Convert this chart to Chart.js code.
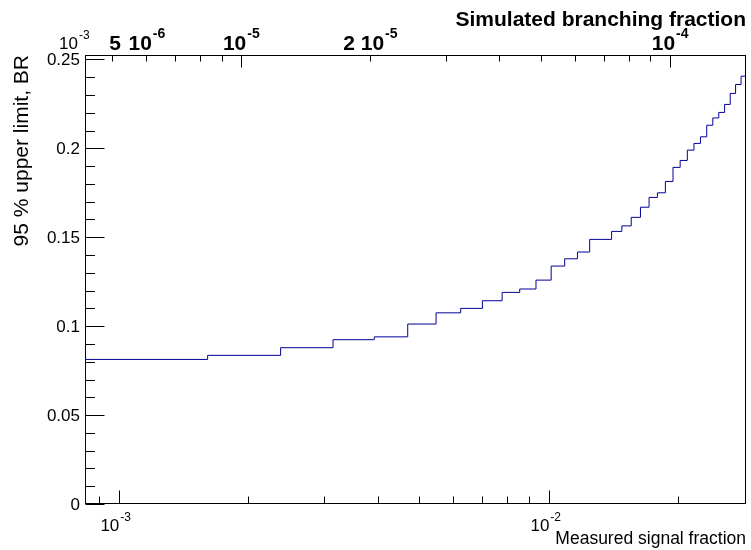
<!DOCTYPE html>
<html>
<head>
<meta charset="utf-8">
<script src="https://cdn.jsdelivr.net/npm/chart.js@4.4.0/dist/chart.umd.min.js"></script>
<style>
  body { margin: 0; background: #fff; }
  canvas { display: block; }
</style>
</head>
<body>
<canvas id="myChart" width="751" height="550"></canvas>
<script>
// bin edges of the histogram (measured signal fraction, in units of 1e-3)
const binEdges = [0.835, 1.61, 2.38, 3.15, 3.93, 4.70, 5.47, 6.24, 7.01, 7.79, 8.56, 9.34,
  10.13, 10.89, 11.66, 12.45, 13.22, 14.00, 14.79, 15.55, 16.34, 17.11, 17.89, 18.67,
  19.45, 20.21, 21.00, 21.76, 22.53, 23.30, 24.07, 24.85, 25.64, 26.42, 27.19, 28.00, 28.78]
const EDGE_UNIT = 1e-3

// 95 % upper limit on BR per bin
const upperLimit = [0.0813, 0.0836, 0.0879, 0.0924, 0.0940, 0.1012, 0.1075, 0.1100, 0.1143,
  0.1190, 0.1209, 0.1259, 0.1338, 0.1379, 0.1417, 0.1488, 0.1488, 0.1533, 0.1564, 0.1612,
  0.1669, 0.1724, 0.1750, 0.1814, 0.1893, 0.1932, 0.1990, 0.2028, 0.2065, 0.2130, 0.2171,
  0.2202, 0.2247, 0.2309, 0.2359, 0.2406]

// axis ranges
const xRange = [0.835e-3, 2.875e-2]
const yRange = [0, 0.2525]
const brRange = [4.32e-6, 1.503e-4]

// tick values
const yMajor = [0, 0.05, 0.1, 0.15, 0.2, 0.25]
const yLabels = ['0', '0.05', '0.1', '0.15', '0.2', '0.25']
const yMinor = [0.01, 0.02, 0.03, 0.04, 0.06, 0.07, 0.08, 0.09, 0.11, 0.12, 0.13, 0.14,
  0.16, 0.17, 0.18, 0.19, 0.21, 0.22, 0.23, 0.24]
const xMajor = [1e-3, 1e-2]
const xMinor = [9e-4, 2e-3, 3e-3, 4e-3, 5e-3, 6e-3, 7e-3, 8e-3, 9e-3, 2e-2]
const xLabels = [['10', '-3'], ['10', '-2']]
const brMajor = [1e-5, 1e-4]
const brMinor = [5e-6, 6e-6, 7e-6, 8e-6, 9e-6, 2e-5, 3e-5, 4e-5, 5e-5, 6e-5, 7e-5, 8e-5, 9e-5]
const brLabelValues = [5e-6, 1e-5, 2e-5, 1e-4]
const brLabels = [['5\u200A 10', '-6'], ['10', '-5'], ['2 10', '-5'], ['10', '-4']]

const FONT = '"Liberation Sans", Arial, Helvetica, sans-serif'

function histPoints(){
    let pts = [{x: binEdges[0] * EDGE_UNIT, y: 0}]
    for (let i = 0; i < upperLimit.length; i++) {
        pts.push({x: binEdges[i] * EDGE_UNIT, y: upperLimit[i]})
    }
    pts.push({x: binEdges[binEdges.length - 1] * EDGE_UNIT, y: upperLimit[upperLimit.length - 1]})
    return pts
}

// text like 10^-3 : base + raised exponent
function supText(ctx, x, y, base, exp, size, expSize, bold, align){
    const w = bold ? 'bold ' : ''
    ctx.font = w + size + 'px ' + FONT
    const bw = ctx.measureText(base).width
    ctx.font = w + expSize + 'px ' + FONT
    const ew = ctx.measureText(exp).width
    const total = bw + 1 + ew
    let left = x
    if (align === 'center') left = x - total / 2
    if (align === 'right') left = x - total
    ctx.textAlign = 'left'
    ctx.textBaseline = 'alphabetic'
    ctx.font = w + size + 'px ' + FONT
    ctx.fillText(base, left, y)
    ctx.font = w + expSize + 'px ' + FONT
    ctx.fillText(exp, left + bw + 1, y - size * 0.58)
}

const rootAxes = {
    id: 'rootAxes',
    beforeDatasetsDraw(chart){
        const ctx = chart.ctx
        const a = chart.chartArea
        const x = chart.scales.x, y = chart.scales.y, x2 = chart.scales.x2
        const L = Math.round(a.left) + 0.5, R = Math.round(a.right) - 0.5
        const T = Math.round(a.top) + 0.5, B = Math.round(a.bottom) - 0.5
        ctx.save()
        ctx.strokeStyle = '#000'
        ctx.lineWidth = 1
        ctx.strokeRect(L, T, R - L, B - T)

        ctx.beginPath()
        // left axis
        yMajor.forEach(v => { const p = Math.round(y.getPixelForValue(v)) + 0.5; ctx.moveTo(L, p); ctx.lineTo(L + 19, p) })
        yMinor.forEach(v => { const p = Math.round(y.getPixelForValue(v)) + 0.5; ctx.moveTo(L, p); ctx.lineTo(L + 9.5, p) })
        // bottom axis
        xMajor.forEach(v => { const p = Math.round(x.getPixelForValue(v)) + 0.5; ctx.moveTo(p, B); ctx.lineTo(p, B - 13) })
        xMinor.forEach(v => { const p = Math.round(x.getPixelForValue(v)) + 0.5; ctx.moveTo(p, B); ctx.lineTo(p, B - 7) })
        // top axis
        brMajor.forEach(v => { const p = Math.round(x2.getPixelForValue(v)) + 0.5; ctx.moveTo(p, T); ctx.lineTo(p, T + 12) })
        brMinor.forEach(v => { const p = Math.round(x2.getPixelForValue(v)) + 0.5; ctx.moveTo(p, T); ctx.lineTo(p, T + 6) })
        ctx.stroke()
        ctx.restore()
    },
    afterDraw(chart){
        const ctx = chart.ctx
        const a = chart.chartArea
        const x = chart.scales.x, y = chart.scales.y, x2 = chart.scales.x2
        ctx.save()
        ctx.fillStyle = '#000'

        // y labels
        ctx.font = '17px ' + FONT
        ctx.textAlign = 'right'
        ctx.textBaseline = 'middle'
        yMajor.forEach((v, i) => ctx.fillText(yLabels[i], a.left - 5, y.getPixelForValue(v) + 1))

        // bottom labels
        xMajor.forEach((v, i) => supText(ctx, x.getPixelForValue(v) - 3, a.bottom + 27, xLabels[i][0], xLabels[i][1], 17, 12, false, 'center'))

        // top labels
        brLabelValues.forEach((v, i) => {
            let px = x2.getPixelForValue(v)
            if (i === 0) {
                supText(ctx, px - 3, a.top - 5, brLabels[i][0], brLabels[i][1], 21, 14, true, 'left')
            } else {
                supText(ctx, px, a.top - 5, brLabels[i][0], brLabels[i][1], 21, 14, true, 'center')
            }
        })
        supText(ctx, 59, 49, '10', '-3', 17, 12, false, 'left')

        // axis titles
        ctx.font = 'bold 21px ' + FONT
        ctx.textAlign = 'right'
        ctx.textBaseline = 'alphabetic'
        ctx.fillText('Simulated branching fraction', a.right, 26)

        ctx.font = '17.5px ' + FONT
        ctx.fillText('Measured signal fraction', a.right, 544)

        ctx.font = '21px ' + FONT
        ctx.translate(28, a.top)
        ctx.rotate(-Math.PI / 2)
        ctx.textAlign = 'right'
        ctx.fillText('95 % upper limit, BR', 0, 0)
        ctx.restore()
    }
}

const ctx = document.getElementById('myChart')

new Chart(ctx, {
    type: 'line',
    data: {
        datasets: [{
            data: histPoints(),
            stepped: 'before',
            borderColor: '#000099',
            borderWidth: 1,
            pointRadius: 0,
            fill: false
        }]
    },
    options: {
        responsive: false,
        animation: false,
        layout: { padding: { left: 85, right: 5, top: 55, bottom: 46 } },
        plugins: { legend: { display: false }, tooltip: { enabled: false } },
        scales: {
            x: { type: 'logarithmic', min: xRange[0], max: xRange[1], display: false },
            x2: { type: 'logarithmic', position: 'top', min: brRange[0], max: brRange[1], display: false },
            y: { type: 'linear', min: yRange[0], max: yRange[1], display: false }
        }
    },
    plugins: [rootAxes]
})
</script>
</body>
</html>
